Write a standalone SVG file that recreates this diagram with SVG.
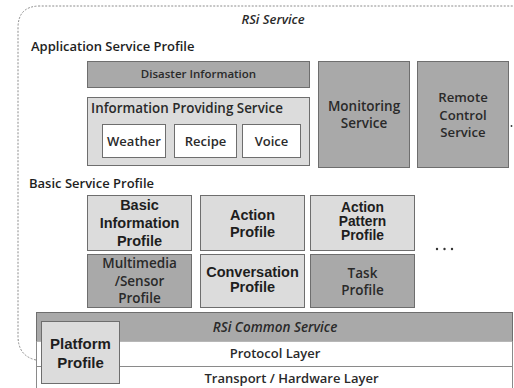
<svg xmlns="http://www.w3.org/2000/svg" width="514" height="388" viewBox="0 0 514 388">
  <style>
    .bx { stroke: #6e6e6e; stroke-width: 1; }
    .dark { fill: #a9a9a9; }
    .light { fill: #dcdcdc; }
    .white { fill: #ffffff; }
    .t { font-family: "Open Sans", "Liberation Sans", sans-serif; font-weight: 600; fill: #2a2a2a; text-anchor: middle; dominant-baseline: central; }
    .a { font-family: "Liberation Sans", Arial, sans-serif; font-weight: bold; fill: #1e1e1e; text-anchor: middle; dominant-baseline: central; }
    .h { font-family: "Open Sans", "Liberation Sans", sans-serif; font-weight: 600; fill: #1e1e1e; font-size: 13px; }
    .it { font-family: "Open Sans", "Liberation Sans", sans-serif; font-style: italic; font-weight: 600; fill: #2a2a2a; text-anchor: middle; dominant-baseline: central; }
    .sep { stroke: #8a8a8a; stroke-width: 1; }
  </style>

  <rect width="514" height="388" fill="#ffffff"/>

  <!-- RSi Service boundary (dashed, rounded) -->
  <g id="rsi-service">
    <path d="M 36 360 Q 18 356 18 336 L 18 28 Q 18 6 40 6 L 514 6" fill="none" stroke="#8c8c8c" stroke-width="1" stroke-dasharray="2 1.5"/>
    <text class="it" x="273" y="19" font-size="13">RSi Service</text>
  </g>

  <!-- Application Service Profile -->
  <g id="application-service-profile">
    <text class="h" x="31" y="51">Application Service Profile</text>
  </g>
  <g id="disaster-information">
    <rect class="bx dark" x="87.5" y="61.5" width="222" height="26"/>
    <text class="t" x="198.5" y="73" font-size="11.5">Disaster Information</text>
  </g>
  <g id="information-providing-service">
    <rect class="bx light" x="87.5" y="97.5" width="222" height="68"/>
    <text class="t" x="187" y="108" font-size="13.4">Information Providing Service</text>
  </g>
  <g id="weather">
    <rect class="bx white" x="102.5" y="124.5" width="63" height="33"/>
    <text class="t" x="134" y="141" font-size="13">Weather</text>
  </g>
  <g id="recipe">
    <rect class="bx white" x="174.5" y="124.5" width="62" height="33"/>
    <text class="t" x="205.5" y="141" font-size="13">Recipe</text>
  </g>
  <g id="voice">
    <rect class="bx white" x="242.5" y="124.5" width="58" height="33"/>
    <text class="t" x="271.5" y="141" font-size="13">Voice</text>
  </g>
  <g id="monitoring-service">
    <rect class="bx dark" x="318.5" y="61.5" width="91" height="106"/>
    <text class="t" x="364" y="106" font-size="13.5">Monitoring</text>
    <text class="t" x="364" y="123" font-size="13.5">Service</text>
  </g>
  <g id="remote-control-service">
    <rect class="bx dark" x="417.5" y="61.5" width="91" height="106"/>
    <text class="t" x="463" y="97" font-size="13.2">Remote</text>
    <text class="t" x="463" y="115" font-size="13.2">Control</text>
    <text class="t" x="463" y="132" font-size="13.2">Service</text>
  </g>
  <circle cx="511.5" cy="126" r="0.9" fill="#333"/>

  <!-- Basic Service Profile -->
  <g id="basic-service-profile">
    <text class="h" x="29" y="188">Basic Service Profile</text>
  </g>
  <g id="basic-information-profile">
    <rect class="bx light" x="87.5" y="195.5" width="104" height="55"/>
    <text class="a" x="139.5" y="205" font-size="14.5">Basic</text>
    <text class="a" x="139.5" y="223" font-size="14.5">Information</text>
    <text class="a" x="139.5" y="241" font-size="14.5">Profile</text>
  </g>
  <g id="action-profile">
    <rect class="bx light" x="200.5" y="195.5" width="104" height="55"/>
    <text class="a" x="252.5" y="215" font-size="14.5">Action</text>
    <text class="a" x="252.5" y="232" font-size="14.5">Profile</text>
  </g>
  <g id="action-pattern-profile">
    <rect class="bx light" x="310.5" y="195.5" width="104" height="55"/>
    <text class="a" x="362.5" y="207" font-size="13.8">Action</text>
    <text class="a" x="362.5" y="221" font-size="13.8">Pattern</text>
    <text class="a" x="362.5" y="235" font-size="13.8">Profile</text>
  </g>
  <g id="multimedia-sensor-profile">
    <rect class="bx dark" x="87.5" y="254.5" width="104" height="53"/>
    <text class="t" x="139.5" y="263" font-size="13.5">Multimedia</text>
    <text class="t" x="139.5" y="281" font-size="13.5">/Sensor</text>
    <text class="t" x="139.5" y="298" font-size="13.5">Profile</text>
  </g>
  <g id="conversation-profile">
    <rect class="bx light" x="200.5" y="254.5" width="104" height="53"/>
    <text class="a" x="252.5" y="272" font-size="14.5">Conversation</text>
    <text class="a" x="252.5" y="287" font-size="14.5">Profile</text>
  </g>
  <g id="task-profile">
    <rect class="bx dark" x="310.5" y="254.5" width="104" height="53"/>
    <text class="t" x="362.5" y="273" font-size="13.5">Task</text>
    <text class="t" x="362.5" y="290" font-size="13.5">Profile</text>
  </g>
  <g id="more">
    <circle cx="437" cy="249" r="1.2" fill="#333"/>
    <circle cx="444.5" cy="249" r="1.2" fill="#333"/>
    <circle cx="452" cy="249" r="1.2" fill="#333"/>
  </g>

  <!-- Layer stack -->
  <g id="rsi-common-service">
    <rect x="36.5" y="312.5" width="476" height="29" fill="#a9a9a9" stroke="#6e6e6e"/>
    <text class="it" x="275" y="327" font-size="13.5">RSi Common Service</text>
  </g>
  <g id="protocol-layer">
    <rect x="36.5" y="341.5" width="476" height="25" fill="#ffffff"/>
    <text class="t" x="275" y="353" font-size="13">Protocol Layer</text>
  </g>
  <g id="transport-hardware-layer">
    <rect x="36.5" y="366.5" width="476" height="22" fill="#ffffff"/>
    <text class="t" x="291.5" y="378" font-size="13">Transport / Hardware Layer</text>
  </g>
  <g id="layer-lines">
    <line class="sep" x1="36.5" y1="366.5" x2="513" y2="366.5"/>
    <line class="sep" x1="36.5" y1="341.5" x2="36.5" y2="388"/>
    <line class="sep" x1="512.5" y1="341.5" x2="512.5" y2="388"/>
  </g>
  <g id="platform-profile">
    <rect class="bx light" x="41.5" y="321.5" width="78" height="62"/>
    <text class="a" x="80.5" y="343" font-size="15">Platform</text>
    <text class="a" x="80.5" y="362" font-size="15">Profile</text>
  </g>
</svg>
